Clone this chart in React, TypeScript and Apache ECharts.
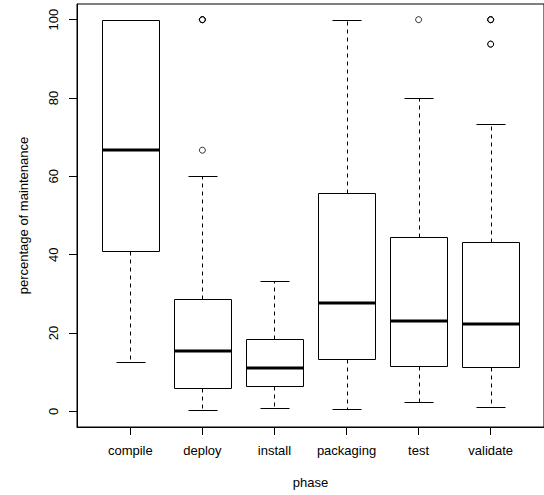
import React, { useEffect, useRef } from "react";
import * as echarts from "echarts";

const categories = ["compile", "deploy", "install", "packaging", "test", "validate"];
// [lower whisker, Q1, median, Q3, upper whisker]
const lowerWhisker = [12.5, 0.33, 0.84, 0.59, 2.38, 1.1];
const q1Values = [40.9, 5.95, 6.47, 13.45, 11.66, 11.24];
const medians = [66.67, 15.3, 11.0, 27.6, 23.0, 22.2];
const q3Values = [100, 28.8, 18.56, 55.7, 44.5, 43.2];
const upperWhisker = [100, 60, 33.4, 100, 80.0, 73.4];
// outliers: [category index (1-based), value]; duplicates overlap as in the original
const outlierCategory = [2, 2, 2, 2, 5, 6, 6, 6, 6, 6];
const outlierValues = [66.67, 100, 100, 100, 100, 93.75, 93.75, 100, 100, 100];
const yTicks = [0, 20, 40, 60, 80, 100];
const xTicks = [1, 2, 3, 4, 5, 6];

const FONT = '"Liberation Sans", Arial, Helvetica, sans-serif';

export default function App() {
  const ref = useRef<HTMLDivElement>(null);
  useEffect(() => {
    if (!ref.current) return;
    const chart = echarts.init(ref.current, undefined, { renderer: "svg" });
    const boxData = categories.map((_, i) => [
      i + 1,
      lowerWhisker[i],
      q1Values[i],
      medians[i],
      q3Values[i],
      upperWhisker[i],
    ]);
    const outliers = outlierValues.map((v, i) => [outlierCategory[i], v]);
    const px = (v: number) => Math.round(v) + 0.5;

    const option: any = {
      animation: false,
      backgroundColor: "#fff",
      textStyle: { fontFamily: FONT },
      grid: {
        left: 77,
        top: 4,
        width: 472,
        height: 423,
        show: true,
        borderColor: "#000",
        borderWidth: 1,
        backgroundColor: "transparent",
      },
      xAxis: {
        type: "value",
        min: 0.26,
        max: 6.74,
        name: "phase",
        nameLocation: "middle",
        nameGap: 49,
        nameTextStyle: { fontSize: 13, color: "#000", fontFamily: FONT },
        axisLine: { show: true, onZero: false, lineStyle: { color: "#000", width: 1 } },
        axisTick: {
          show: true,
          customValues: xTicks,
          length: 8,
          inside: false,
          lineStyle: { color: "#000", width: 1 },
        },
        axisLabel: {
          customValues: xTicks,
          formatter: (v: number) => categories[Math.round(v) - 1] ?? "",
          fontSize: 13,
          color: "#000",
          fontFamily: FONT,
          margin: 17,
        },
        splitLine: { show: false },
      },
      yAxis: {
        type: "value",
        min: -4,
        max: 104,
        name: "percentage of maintenance",
        nameLocation: "middle",
        nameRotate: 90,
        nameGap: 47,
        nameTextStyle: { fontSize: 13, color: "#000", fontFamily: FONT },
        axisLine: { show: true, onZero: false, lineStyle: { color: "#000", width: 1 } },
        axisTick: {
          show: true,
          customValues: yTicks,
          length: 8,
          inside: false,
          lineStyle: { color: "#000", width: 1 },
        },
        axisLabel: {
          customValues: yTicks,
          rotate: 90,
          fontSize: 13,
          color: "#000",
          fontFamily: FONT,
          margin: 17,
        },
        splitLine: { show: false },
      },
      series: [
        {
          type: "custom",
          data: boxData,
          encode: { x: 0, y: [1, 2, 3, 4, 5] },
          clip: false,
          renderItem: (_params: any, api: any) => {
            const x = api.value(0);
            const lo = api.coord([x, api.value(1)]);
            const q1 = api.coord([x, api.value(2)]);
            const med = api.coord([x, api.value(3)]);
            const q3 = api.coord([x, api.value(4)]);
            const hi = api.coord([x, api.value(5)]);
            const left = api.coord([x - 0.4, 0])[0];
            const right = api.coord([x + 0.4, 0])[0];
            const capL = api.coord([x - 0.2, 0])[0];
            const capR = api.coord([x + 0.2, 0])[0];
            const cx = px(lo[0]);
            const thin = { stroke: "#000", lineWidth: 1, fill: "none" };
            const dashed = { stroke: "#000", lineWidth: 1, lineDash: [4, 4], fill: "none" };
            const children: any[] = [
              {
                type: "line",
                shape: { x1: cx, y1: px(q3[1]), x2: cx, y2: px(hi[1]) },
                style: dashed,
              },
              {
                type: "line",
                shape: { x1: cx, y1: px(q1[1]), x2: cx, y2: px(lo[1]) },
                style: dashed,
              },
              {
                type: "line",
                shape: { x1: px(capL), y1: px(hi[1]), x2: px(capR), y2: px(hi[1]) },
                style: thin,
              },
              {
                type: "line",
                shape: { x1: px(capL), y1: px(lo[1]), x2: px(capR), y2: px(lo[1]) },
                style: thin,
              },
              {
                type: "rect",
                shape: {
                  x: px(left),
                  y: px(q3[1]),
                  width: px(right) - px(left),
                  height: px(q1[1]) - px(q3[1]),
                },
                style: thin,
              },
              {
                type: "line",
                shape: {
                  x1: px(left),
                  y1: Math.round(med[1]),
                  x2: px(right),
                  y2: Math.round(med[1]),
                },
                style: { stroke: "#000", lineWidth: 3 },
              },
            ];
            return { type: "group", children };
          },
        },
        {
          type: "scatter",
          data: outliers,
          symbol: "circle",
          symbolSize: 6,
          itemStyle: { color: "transparent", borderColor: "#000", borderWidth: 1 },
          clip: false,
        },
      ],
    };
    chart.setOption(option);
    return () => chart.dispose();
  }, []);
  return (
    <div
      ref={ref}
      style={{ position: "fixed", left: 0, top: 0, width: 544, height: 495, background: "#fff" }}
    />
  );
}
